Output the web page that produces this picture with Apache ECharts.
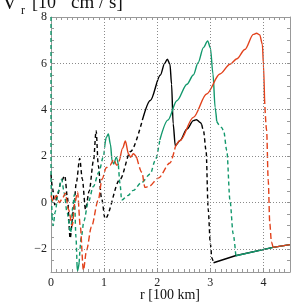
<!DOCTYPE html>
<html><head><meta charset="utf-8">
<script src="https://cdn.jsdelivr.net/npm/echarts@6/dist/echarts.min.js"></script>
<style>html,body{margin:0;padding:0;background:#fff}#c{width:305px;height:305px}</style>
</head><body><div id="c"></div>
<script>
// tick labels / grid positions
const xTickLabels = [0, 1, 2, 3, 4];
const yTickLabels = [-2, 0, 2, 4, 6, 8];
const gridX = [1, 2, 3, 4];
const gridY = [-2, 0, 2, 4, 6];

// black curve
const blackDash1 = [[0,1.2],[0.03,0.6],[0.07,-0.1],[0.12,0.3],[0.19,0.9],[0.26,1.15],[0.31,0.2],[0.36,-1.55],[0.42,-0.4],[0.48,0.9],[0.54,1.9],[0.59,1.0],[0.65,-0.3],[0.72,0.5],[0.8,1.8],[0.85,3.1],[0.89,1.6],[0.95,0.2],[1.02,-0.7],[1.3,1.0],[1.5,2.2],[1.72,3.55]];
const blackSolid1 = [[1.72,3.55],[1.87,4.4],[2.06,5.5],[2.14,6.0],[2.19,6.18],[2.24,5.96],[2.27,5.1],[2.3,3.4],[2.34,2.45],[2.43,2.67],[2.56,3.17],[2.68,3.53],[2.74,3.57],[2.81,3.45],[2.84,3.35]];
const blackDash2 = [[2.84,3.35],[2.87,3.1],[2.92,2.24],[2.96,-0.3],[3.0,-1.77],[3.03,-2.4],[3.06,-2.6]];
const blackSolid2 = [[3.06,-2.6],[3.47,-2.3],[4.18,-1.94],[4.5,-1.82]];

// green curve
const greenDash0 = [[0,8],[0,1.0],[0.02,-0.6]];
const greenDash1 = [[0.02,-0.6],[0.04,-1.0],[0.08,-0.4],[0.14,0.5],[0.2,1.0],[0.25,0.4],[0.3,-0.4],[0.37,-1.3],[0.41,-0.2],[0.44,0.35],[0.47,-1.5],[0.49,-2.7]];
const greenSolid0 = [[0.49,-2.7],[0.5,-2.95],[0.53,-2.6]];
const greenDash2 = [[0.53,-2.6],[0.57,-1.5],[0.62,-0.8],[0.7,0.0],[0.8,0.7],[0.9,1.3],[0.99,2.0],[1.01,2.4]];
const greenSolid1 = [[1.01,2.4],[1.04,2.8],[1.08,2.95],[1.12,2.5],[1.15,1.8],[1.18,1.66],[1.23,1.95],[1.27,1.6]];
const greenDash3 = [[1.27,1.6],[1.3,0.8],[1.33,0.1],[1.45,0.3],[1.55,0.52],[1.7,0.85],[1.87,1.23],[1.96,1.8],[2.05,2.7]];
const greenSolid2 = [[2.05,2.7],[2.2,3.55],[2.37,4.39],[2.56,5.1],[2.68,5.5],[2.77,6.03],[2.87,6.68],[2.95,6.97],[3.0,6.68],[3.05,5.54],[3.09,4.1],[3.12,3.5]];
const greenDash4 = [[3.12,3.5],[3.21,3.24],[3.25,3.1],[3.31,2.24],[3.37,0.09],[3.43,-1.35],[3.48,-2.3]];
const greenSolid3 = [[3.48,-2.3],[4.18,-1.94],[4.5,-1.82]];

// red curve
const redDash1 = [[0,0.3],[0.04,0.05],[0.1,0.3],[0.16,0.0],[0.22,0.2],[0.27,0.4],[0.33,-0.3],[0.4,-1.0],[0.45,0.0],[0.5,0.45],[0.55,-1.0],[0.61,-2.92],[0.67,-2.06],[0.76,-1.06],[0.89,0.1],[0.96,1.0],[1.04,1.5],[1.11,1.6],[1.18,1.85],[1.24,1.6],[1.3,1.9]];
const redSolid1 = [[1.3,1.9],[1.35,2.35],[1.4,2.65],[1.46,2.09],[1.5,1.95],[1.55,2.1],[1.62,1.9]];
const redDash2 = [[1.62,1.9],[1.71,1.3],[1.77,0.65],[1.85,0.7],[2.02,1.05],[2.24,1.7],[2.34,2.4]];
const redSolid2 = [[2.34,2.4],[2.43,2.67],[2.68,3.67],[2.93,4.68],[3.18,5.54],[3.37,5.96],[3.5,6.2],[3.65,6.6],[3.81,7.25],[3.87,7.3],[3.93,7.23],[3.98,6.82],[4.0,5.96],[4.02,4.5]];
const redDash3 = [[4.02,4.5],[4.06,3.1],[4.09,0.95],[4.12,-0.92],[4.15,-1.7],[4.18,-1.94]];
const redSolid3 = [[4.18,-1.94],[4.5,-1.82]];

const BLACK = '#000000', GREEN = '#12986c', RED = '#e2421c';
const serif = 'Liberation Serif, Times New Roman, serif';

function seg(data, color, dash, smooth) {
  return {
    type: 'line', data: data, xAxisIndex: 0, yAxisIndex: 0,
    showSymbol: false, symbol: 'none', silent: true,
    smooth: smooth === false ? false : 0.3, smoothMonotone: smooth === false ? undefined : 'x',
    lineStyle: { color: color, width: 1.4, type: dash ? dash : 'solid' }
  };
}

function xAx(pos, showLabel) {
  return {
    type: 'value', position: pos, min: 0, max: 4.5, interval: 0.5,
    axisLine: { show: true, onZero: false, lineStyle: { color: '#999', width: 1 } },
    axisTick: { show: true, inside: true, length: 3, lineStyle: { color: '#999' } },
    minorTick: { show: true, splitNumber: 5, length: 3, lineStyle: { color: '#999' } },
    splitLine: { show: false },
    axisLabel: {
      show: showLabel, margin: 5, color: '#222', fontFamily: serif, fontSize: 12,
      formatter: v => (xTickLabels.indexOf(Math.round(v * 10) / 10) >= 0 ? String(v) : '')
    }
  };
}
function yAx(pos, showLabel) {
  return {
    type: 'value', position: pos, min: -3, max: 8, interval: 1,
    axisLine: { show: true, onZero: false, lineStyle: { color: '#999', width: 1 } },
    axisTick: { show: true, inside: true, length: 3, lineStyle: { color: '#999' } },
    minorTick: { show: true, splitNumber: 2, length: 3, lineStyle: { color: '#999' } },
    splitLine: { show: false },
    axisLabel: {
      show: showLabel, margin: 4, color: '#222', fontFamily: serif, fontSize: 12,
      formatter: v => (yTickLabels.indexOf(v) >= 0 ? (v < 0 ? '\u2212' + Math.abs(v) : String(v)) : '')
    }
  };
}

const first = seg(blackDash1, BLACK, [4, 3]);
first.markLine = {
  silent: true, symbol: 'none', animation: false,
  label: { show: false },
  lineStyle: { type: [1, 2], color: '#8a8a8a', width: 1 },
  data: gridX.map(v => ({ xAxis: v })).concat(gridY.map(v => ({ yAxis: v })))
};

const chart = echarts.init(document.getElementById('c'), null, { renderer: 'canvas' });
chart.setOption({
  animation: false,
  backgroundColor: '#fff',
  grid: { left: 51, top: 17, right: 15, bottom: 33, containLabel: false },
  xAxis: [xAx('bottom', true), xAx('top', false)],
  yAxis: [yAx('left', true), yAx('right', false)],
  graphic: [
    { type: 'text', left: 2, top: -7, style: { text: 'V', font: '21px ' + serif, fill: '#111' } },
    { type: 'text', left: 21, top: 5, style: { text: 'r', font: '12px ' + serif, fill: '#111' } },
    { type: 'text', left: 32, top: -6, style: { text: '[10', font: '18px ' + serif, fill: '#111' } },
    { type: 'text', left: 57, top: -13, style: { text: '8', font: '12px ' + serif, fill: '#111' } },
    { type: 'text', left: 71, top: -6, style: { text: 'cm / s]', font: '19px ' + serif, fill: '#111' } },
    { type: 'text', x: 170, y: 295, style: { text: 'r [100 km]', font: '14px ' + serif, fill: '#111', textAlign: 'center', textVerticalAlign: 'middle' } }
  ],
  series: [
    first,
    seg(blackSolid1, BLACK, null),
    seg(blackDash2, BLACK, [4, 3]),
    seg(blackSolid2, BLACK, null, false),
    seg(greenDash0, GREEN, [4, 3], false),
    seg(greenDash1, GREEN, [4, 3]),
    seg(greenSolid0, GREEN, null),
    seg(greenDash2, GREEN, [4, 3]),
    seg(greenSolid1, GREEN, null),
    seg(greenDash3, GREEN, [4, 3]),
    seg(greenSolid2, GREEN, null),
    seg(greenDash4, GREEN, [4, 3]),
    seg(greenSolid3, GREEN, null, false),
    seg(redDash1, RED, [6, 3]),
    seg(redSolid1, RED, null),
    seg(redDash2, RED, [6, 3]),
    seg(redSolid2, RED, null),
    seg(redDash3, RED, [6, 3]),
    seg(redSolid3, RED, null, false)
  ]
});
</script></body></html>
